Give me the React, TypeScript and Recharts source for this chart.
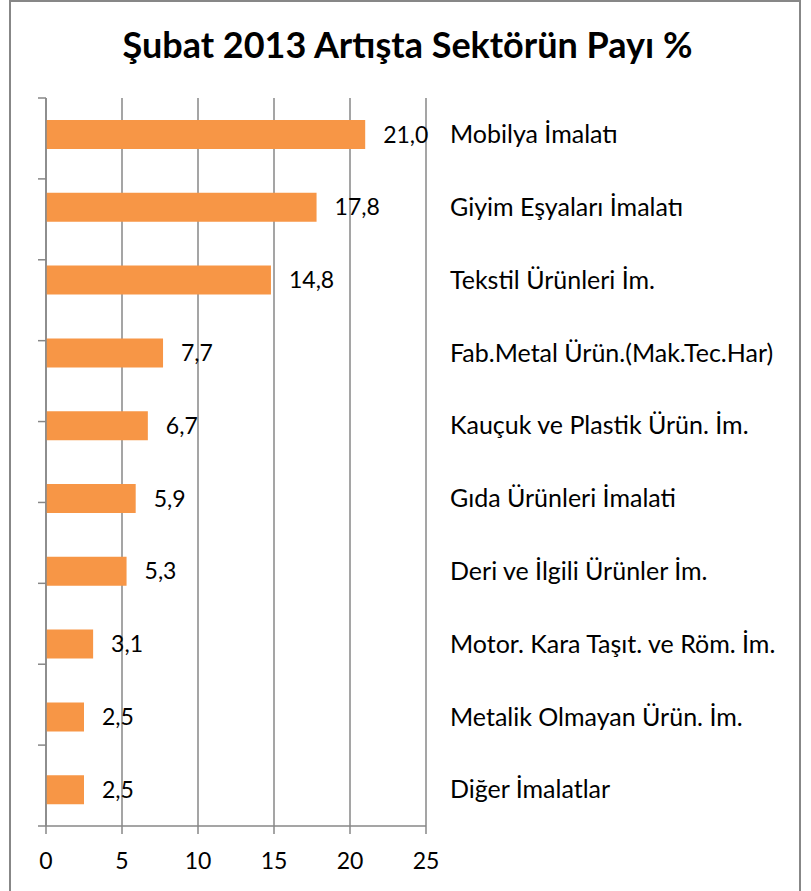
import { BarChart, Bar, XAxis, YAxis, CartesianGrid, LabelList } from "recharts";

const sectors = [
  "Mobilya İmalatı",
  "Giyim Eşyaları İmalatı",
  "Tekstil Ürünleri İm.",
  "Fab.Metal Ürün.(Mak.Tec.Har)",
  "Kauçuk ve Plastik Ürün. İm.",
  "Gıda Ürünleri İmalati",
  "Deri ve İlgili Ürünler İm.",
  "Motor. Kara Taşıt. ve Röm. İm.",
  "Metalik Olmayan Ürün. İm.",
  "Diğer İmalatlar",
];

const shares = [21.0, 17.8, 14.8, 7.7, 6.7, 5.9, 5.3, 3.1, 2.5, 2.5];

const xTicks = [0, 5, 10, 15, 20, 25];
const bandTicks = [0, 1, 2, 3, 4, 5, 6, 7, 8, 9, 10];

const chartData = sectors.map((name, i) => ({ name, pay: shares[i] }));

const FONT = "Lato, 'Open Sans', sans-serif";
const GRAY = "#878787";

function formatPct(value: number): string {
  return Number(value).toFixed(1).replace(".", ",");
}

export default function App() {
  return (
    <div
      style={{
        position: "relative",
        width: 811,
        height: 891,
        overflow: "hidden",
        background: "#fff",
        fontFamily: FONT,
      }}
    >
      <style>{`html,body{margin:0;padding:0;overflow:hidden;}`}</style>
      <div
        style={{
          position: "absolute",
          left: 9,
          top: 0,
          width: 792,
          height: 930,
          boxSizing: "border-box",
          border: `2px solid ${GRAY}`,
        }}
      />
      <div
        style={{
          position: "absolute",
          left: 0,
          top: 22,
          width: 815,
          textAlign: "center",
          fontSize: 36,
          fontWeight: 700,
          color: "#000",
        }}
      >
        Şubat 2013 Artışta Sektörün Payı %
      </div>
      <div style={{ position: "absolute", left: 0, top: 0 }}>
        <BarChart
          width={811}
          height={891}
          data={chartData}
          layout="vertical"
          margin={{ top: 98, right: 0, bottom: 0, left: 38 }}
        >
          <CartesianGrid horizontal={false} stroke={GRAY} strokeWidth={1.5} />
          <XAxis
            type="number"
            domain={[0, 25]}
            ticks={xTicks}
            height={65}
            tickSize={8}
            tickMargin={19}
            stroke={GRAY}
            strokeWidth={1.5}
            tick={{ fill: "#000", fontSize: 23, fontFamily: FONT }}
          />
          <YAxis
            yAxisId="bands"
            type="number"
            orientation="left"
            domain={[0, 10]}
            ticks={bandTicks}
            width={8}
            tickSize={8}
            stroke={GRAY}
            strokeWidth={1.5}
            tickFormatter={() => ""}
          />
          <YAxis
            yAxisId="cats"
            type="category"
            dataKey="name"
            orientation="right"
            width={385}
            axisLine={false}
            tickLine={false}
            tickMargin={18}
            tick={{ fill: "#000", fontSize: 25, fontFamily: FONT }}
          />
          <Bar
            yAxisId="cats"
            dataKey="pay"
            fill="#F79646"
            barSize={29}
            isAnimationActive={false}
          >
            <LabelList
              dataKey="pay"
              position="right"
              offset={18}
              formatter={(v: number) => formatPct(v)}
              style={{ fill: "#000", fontSize: 23, fontFamily: FONT }}
            />
          </Bar>
        </BarChart>
      </div>
    </div>
  );
}
